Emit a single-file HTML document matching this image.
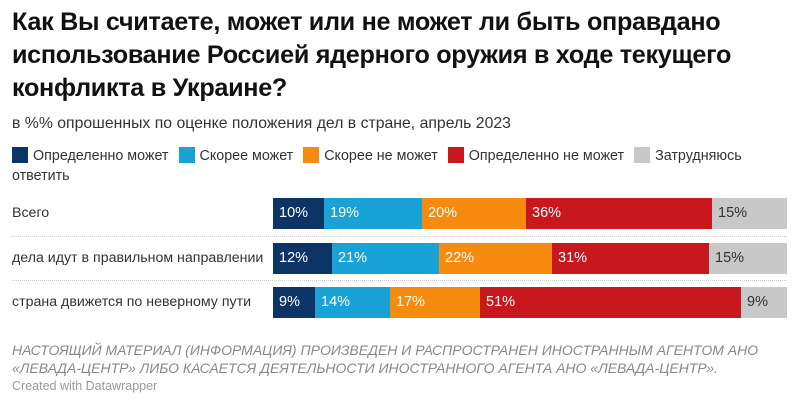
<!DOCTYPE html>
<html><head><meta charset="utf-8"><style>
body{margin:0;width:800px;height:407px;background:#fff;font-family:"Liberation Sans",Arial,sans-serif;position:relative;overflow:hidden;color:#222}
.t{position:absolute;left:12px;top:6px;font-size:25.2px;line-height:33px;font-weight:bold;letter-spacing:-0.3px;color:#111}
.s{position:absolute;left:12px;top:115px;font-size:15.8px;color:#333}
.lg{position:absolute;left:12px;top:146px;font-size:14.3px;color:#333;width:760px;line-height:20px}
.lg span{display:inline-block;margin-right:10px}
.lg i{display:inline-block;width:16px;height:16px;vertical-align:-3px;margin-right:5px}
.lab{position:absolute;left:12px;font-size:14.2px;color:#333}
.bar{position:absolute;height:31px;font-size:14.5px;line-height:31px;color:#fff;padding-left:6px;box-sizing:border-box}
.sep{position:absolute;left:12px;width:775px;border-top:1px dotted #ccc}
.f{position:absolute;left:12px;top:341px;font-size:14px;font-style:italic;color:#888;line-height:18px}
.c{position:absolute;left:12px;top:379px;font-size:12.5px;color:#999}
</style></head><body>
<div class="t">Как Вы считаете, может или не может ли быть оправдано<br>использование Россией ядерного оружия в ходе текущего<br>конфликта в Украине?</div>
<div class="s">в %% опрошенных по оценке положения дел в стране, апрель 2023</div>
<div class="lg"><span><i style="background:#0d3466"></i>Определенно может</span><span><i style="background:#19a2d6"></i>Скорее может</span><span><i style="background:#f68b0f"></i>Скорее не может</span><span><i style="background:#c8171d"></i>Определенно не может</span><span><i style="background:#c8c8c8"></i>Затрудняюсь</span><br>ответить</div>
<div class="lab" style="top:205px">Всего</div>
<div class="lab" style="top:250px">дела идут в правильном направлении</div>
<div class="lab" style="top:294px">страна движется по неверному пути</div>
<div class="sep" style="top:236px"></div>
<div class="sep" style="top:280px"></div>
<div class="bar" style="top:198px;left:273px;width:51px;background:#0d3466">10%</div>
<div class="bar" style="top:198px;left:324px;width:98px;background:#19a2d6">19%</div>
<div class="bar" style="top:198px;left:422px;width:104px;background:#f68b0f">20%</div>
<div class="bar" style="top:198px;left:526px;width:186px;background:#c8171d">36%</div>
<div class="bar" style="top:198px;left:712px;width:75px;background:#c8c8c8;color:#333">15%</div>
<div class="bar" style="top:243px;left:273px;width:59px;background:#0d3466">12%</div>
<div class="bar" style="top:243px;left:332px;width:107px;background:#19a2d6">21%</div>
<div class="bar" style="top:243px;left:439px;width:113px;background:#f68b0f">22%</div>
<div class="bar" style="top:243px;left:552px;width:157px;background:#c8171d">31%</div>
<div class="bar" style="top:243px;left:709px;width:78px;background:#c8c8c8;color:#333">15%</div>
<div class="bar" style="top:287px;left:273px;width:42px;background:#0d3466">9%</div>
<div class="bar" style="top:287px;left:315px;width:75px;background:#19a2d6">14%</div>
<div class="bar" style="top:287px;left:390px;width:90px;background:#f68b0f">17%</div>
<div class="bar" style="top:287px;left:480px;width:261px;background:#c8171d">51%</div>
<div class="bar" style="top:287px;left:741px;width:46px;background:#c8c8c8;color:#333">9%</div>
<div class="f">НАСТОЯЩИЙ МАТЕРИАЛ (ИНФОРМАЦИЯ) ПРОИЗВЕДЕН И РАСПРОСТРАНЕН ИНОСТРАННЫМ АГЕНТОМ АНО<br>«ЛЕВАДА-ЦЕНТР» ЛИБО КАСАЕТСЯ ДЕЯТЕЛЬНОСТИ ИНОСТРАННОГО АГЕНТА АНО «ЛЕВАДА-ЦЕНТР».</div>
<div class="c">Created with Datawrapper</div>
</body></html>
